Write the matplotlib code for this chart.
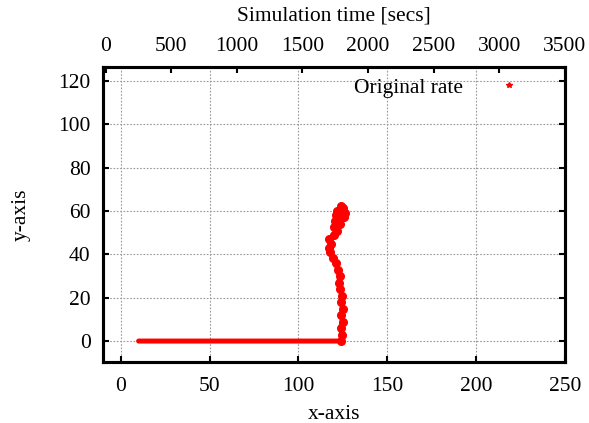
import matplotlib
matplotlib.use("Agg")
import matplotlib.pyplot as plt
from matplotlib.lines import Line2D

# values (path of the "Original rate" points)
rate_x = [10, 60, 124, 124.6, 123.8, 124.9, 124.0, 125.2, 123.9, 124.6, 123.4,
          122.8, 123.2, 122.0, 121.2, 119.5, 118.0, 117.0, 118.6, 117.3, 119.8,
          121.5, 119.8, 123.5, 120.6, 125.5, 121.0, 126.0, 121.8, 125.2, 124.2]
rate_y = [0, 0, 0, 3, 6, 9, 12, 15, 18, 21, 24,
          27, 30, 33, 36, 38.5, 41, 43, 45, 47, 49,
          51, 52.5, 54, 55.5, 57, 58, 59, 60, 61.5, 62.5]

x_ticks = [0, 50, 100, 150, 200, 250]
y_ticks = [0, 20, 40, 60, 80, 100, 120]
top_ticks = [0, 500, 1000, 1500, 2000, 2500, 3000, 3500]

fs = 15.5
plt.rcParams['font.family'] = ['Liberation Serif', 'DejaVu Serif']
plt.rcParams['font.size'] = fs

fig = plt.figure(figsize=(5.89, 4.23), dpi=100)
ax = fig.add_axes([0.175, 0.144, 0.784, 0.698])

ax.plot(rate_x, rate_y, color='red', lw=3.6, solid_capstyle='round',
        solid_joinstyle='round', zorder=3)
ax.plot(rate_x[2:], rate_y[2:], ls='', marker='o', ms=5.5, color='red', zorder=3)

ax.set_xlim(-10, 250)
ax.set_ylim(-9.7, 126.5)
ax.set_xticks(x_ticks)
ax.set_yticks(y_ticks)
ax.grid(True, color='#999999', ls=(0, (1.5, 1.5)), lw=0.8)
ax.tick_params(direction='in', length=4, width=1.5, right=True, labelsize=fs)
ax.tick_params(axis='x', pad=11)
ax.tick_params(axis='y', pad=9)
for sp in ax.spines.values():
    sp.set_linewidth(2.2)

ax.set_xlabel('x-axis', labelpad=6)
ax.set_ylabel('y-axis', labelpad=20)

top = ax.twiny()
top.set_xlim(-20, 3480)
top.set_xticks(top_ticks)
top.tick_params(direction='in', length=4, width=1.5, labelsize=fs, pad=7.5)
top.set_xlabel('Simulation time [secs]', labelpad=12)
for sp in top.spines.values():
    sp.set_linewidth(2.2)

handle = Line2D([], [], ls='', marker='*', ms=4, color='red')
ax.legend([handle], ['Original rate'], loc='upper right', markerfirst=False,
          frameon=False, fontsize=fs, handlelength=1.0, handletextpad=1.6,
          bbox_to_anchor=(0.925, 1.0), borderaxespad=0.1)

fig.savefig('out.png', dpi=100)
